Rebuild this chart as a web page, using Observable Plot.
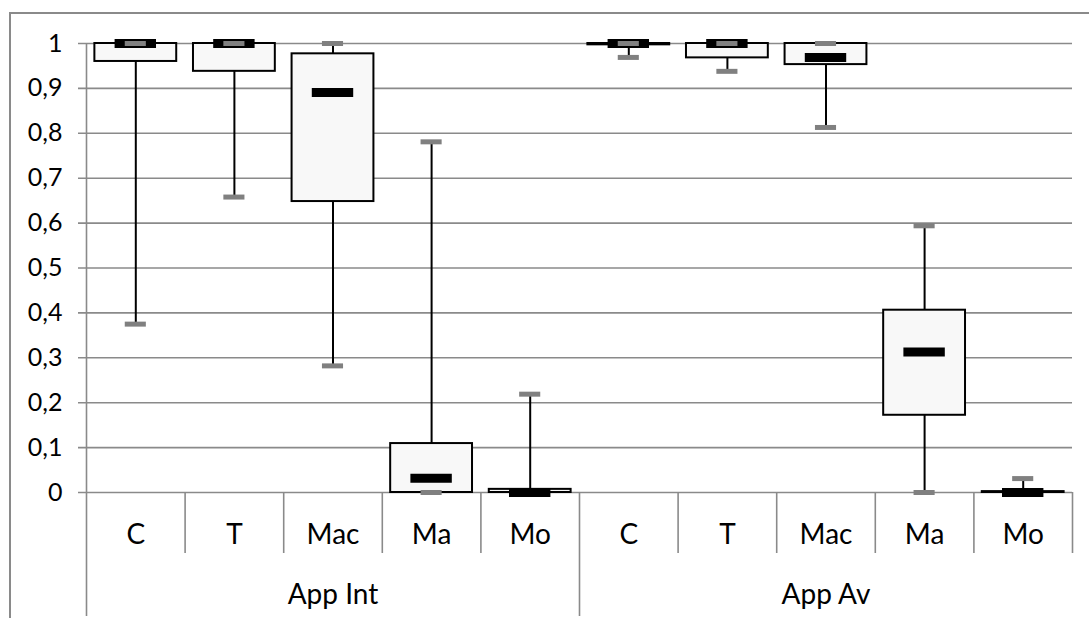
<!DOCTYPE html>
<html>
<head>
<meta charset="utf-8">
<script src="https://cdn.jsdelivr.net/npm/d3@7"></script>
<script src="https://cdn.jsdelivr.net/npm/@observablehq/plot@0.6"></script>
<style>
  html, body { margin: 0; padding: 0; background: #fff; }
  #wrap { position: relative; width: 1089px; height: 618px; overflow: hidden; }
  #wrap svg { position: absolute; left: 0; top: 0; }
  #border { position: absolute; left: 9px; top: 12px; width: 1200px; height: 800px;
            border-left: 2px solid #8a8a8a; border-top: 2px solid #8a8a8a; pointer-events: none; }
</style>
</head>
<body>
<div id="wrap"><div id="border"></div></div>
<script>
const groups = ["App Int", "App Av"];
const categories = ["C", "T", "Mac", "Ma", "Mo"];
const mins    = [0.375, 0.658, 0.282, 0,     0,     0.969, 0.938, 0.813, 0,     0];
const q1s     = [0.960, 0.938, 0.648, 0,     0,     0.997, 0.968, 0.953, 0.172, 0];
const medians = [1,     1,     0.891, 0.032, 0,     1,     1,     0.969, 0.313, 0];
const q3s     = [1,     1,     0.977, 0.109, 0.007, 1,     1,     1,     0.406, 0.002];
const maxs    = [1,     1,     1,     0.781, 0.219, 1,     1,     1,     0.594, 0.031];
const yTicks  = [0, 0.1, 0.2, 0.3, 0.4, 0.5, 0.6, 0.7, 0.8, 0.9, 1];

const n = categories.length;
const data = [];
groups.forEach((g, gi) => categories.forEach((c, ci) => {
  const i = gi * n + ci;
  data.push({group: g, cat: c, pos: i + 0.5, min: mins[i], q1: q1s[i], median: medians[i], q3: q3s[i], max: maxs[i]});
}));
const groupData = groups.map((g, gi) => ({group: g, pos: gi * n + n / 2}));
const shortSeps = d3.range(0, groups.length * n + 1).filter(k => k % n !== 0 || k === groups.length * n);
const longSeps = d3.range(0, groups.length).map(gi => gi * n);

const FONT = "Lato, 'DejaVu Sans', sans-serif";
const GRID = "#8a8a8a";
const BOXHALF = 0.415, MEDHALF = 0.21, CAPHALF = 0.107;

const chart = Plot.plot({
  width: 1089,
  height: 618,
  marginLeft: 86,
  marginRight: 17,
  marginTop: 43,
  marginBottom: 126,
  style: {fontFamily: FONT, background: "transparent"},
  x: {domain: [0, groups.length * n], axis: null},
  y: {domain: [0, 1], axis: null},
  marks: [
    Plot.gridY(yTicks, {stroke: GRID, strokeOpacity: 1, strokeWidth: 1.6, insetLeft: -8}),
    Plot.axisY(yTicks, {tickSize: 0, tickPadding: 24, fontSize: 25, fill: "#000",
      tickFormat: d => String(d).replace(".", ","), label: null}),
    Plot.ruleX([0], {stroke: GRID, strokeWidth: 1.6}),
    Plot.axisX(shortSeps, {anchor: "bottom", tickSize: 61, tickFormat: () => "", stroke: GRID, strokeWidth: 1.6, label: null}),
    Plot.axisX(longSeps, {anchor: "bottom", tickSize: 124, tickFormat: () => "", stroke: GRID, strokeWidth: 1.6, label: null}),
    Plot.text(data, {x: "pos", text: "cat", frameAnchor: "bottom", dy: 43, fontSize: 28, fill: "#000", lineAnchor: "middle"}),
    Plot.text(groupData, {x: "pos", text: "group", frameAnchor: "bottom", dy: 103, fontSize: 28, fill: "#000", lineAnchor: "middle"}),
    Plot.ruleX(data, {x: "pos", y1: "min", y2: "max", stroke: "#000", strokeWidth: 2}),
    Plot.rect(data, {x1: d => d.pos - BOXHALF, x2: d => d.pos + BOXHALF, y1: "q1", y2: "q3",
      fill: "#f8f8f8", stroke: "#000", strokeWidth: 2}),
    Plot.ruleY(data, {y: "min", x1: d => d.pos - CAPHALF, x2: d => d.pos + CAPHALF, stroke: "#808080", strokeWidth: 5}),
    Plot.ruleY(data, {y: "median", x1: d => d.pos - MEDHALF, x2: d => d.pos + MEDHALF, stroke: "#000", strokeWidth: 9}),
    Plot.ruleY(data, {y: "max", x1: d => d.pos - CAPHALF, x2: d => d.pos + CAPHALF, stroke: "#808080", strokeWidth: 5})
  ]
});
document.getElementById("wrap").appendChild(chart);
</script>
</body>
</html>
